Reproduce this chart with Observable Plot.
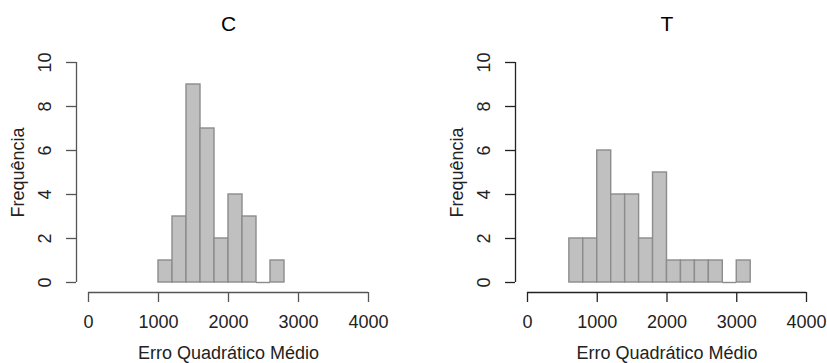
<!DOCTYPE html>
<html>
<head>
<meta charset="utf-8">
<script src="https://cdn.jsdelivr.net/npm/d3@7"></script>
<script src="https://cdn.jsdelivr.net/npm/@observablehq/plot@0.6"></script>
<style>
  html, body { margin: 0; padding: 0; background: #fff; }
  #wrap { display: flex; width: 827px; height: 363px; }
</style>
</head>
<body>
<div id="wrap"></div>
<script>
// Bin edges (width 200) and counts
const edgesC = [1000, 1200, 1400, 1600, 1800, 2000, 2200, 2400, 2600, 2800];
const countsC = [1, 3, 9, 7, 2, 4, 3, 0, 1];
const edgesT = [600, 800, 1000, 1200, 1400, 1600, 1800, 2000, 2200, 2400, 2600, 2800, 3000, 3200];
const countsT = [2, 2, 6, 4, 4, 2, 5, 1, 1, 1, 1, 0, 1];
const xTicks = [0, 1000, 2000, 3000, 4000];
const yTicks = [0, 2, 4, 6, 8, 10];
const titles = ["C", "T"];
const xLabel = "Erro Quadrático Médio";
const yLabel = "Frequência";

function panel(edges, counts, title, width, ml, mr, axisColor) {
  const data = counts.map((n, i) => ({x1: edges[i], x2: edges[i + 1], n}));
  return Plot.plot({
    width, height: 363,
    marginLeft: ml, marginRight: mr, marginTop: 62, marginBottom: 81,
    style: {fontFamily: "'Liberation Sans', Arial, sans-serif", background: "#fff", overflow: "visible", color: "#222"},
    x: {domain: [0, 4000], axis: null},
    y: {domain: [0, 10], axis: null},
    marks: [
      Plot.rectY(data.filter(d => d.n > 0), {x1: "x1", x2: "x2", y: "n", fill: "#c0c0c0", stroke: "#8c8c8c", strokeWidth: 1.4}),
      Plot.ruleY(data.filter(d => d.n === 0), {x1: "x1", x2: "x2", y: 0, stroke: "#8c8c8c", strokeWidth: 1.4}),
      // y axis
      Plot.ruleX([0], {y1: 0, y2: 10, dx: -12, stroke: axisColor, strokeWidth: 1.3}),
      Plot.axisY({ticks: yTicks, tickSize: 10, dx: -12, label: null, tickFormat: () => "", stroke: axisColor, strokeWidth: 1.3, strokeOpacity: 1}),
      Plot.text(yTicks, {y: d => d, text: d => String(d), frameAnchor: "left", dx: -43, rotate: -90, textAnchor: "middle", lineAnchor: "middle", fontSize: 18, fill: "#222"}),
      Plot.text([yLabel], {frameAnchor: "left", dx: -70, rotate: -90, textAnchor: "middle", lineAnchor: "middle", fontSize: 18, fill: "#222"}),
      // x axis
      Plot.ruleY([0], {x1: 0, x2: 4000, dy: 10, stroke: axisColor, strokeWidth: 1.3}),
      Plot.axisX({ticks: xTicks, tickSize: 10, dy: 10, tickPadding: 13, label: null, tickFormat: d => String(d), fontSize: 18, stroke: axisColor, strokeWidth: 1.3, strokeOpacity: 1, fill: "#222"}),
      Plot.text([xLabel], {frameAnchor: "bottom", dy: 71, textAnchor: "middle", lineAnchor: "middle", fontSize: 18, fill: "#222"}),
      // title
      Plot.text([title], {frameAnchor: "top", dy: -38, textAnchor: "middle", lineAnchor: "middle", fontSize: 21, fill: "#000"})
    ]
  });
}

const wrap = document.getElementById("wrap");
wrap.append(panel(edgesC, countsC, titles[0], 414, 88, 46, "#555"));
wrap.append(panel(edgesT, countsT, titles[1], 413, 113, 21, "#222"));
</script>
</body>
</html>
